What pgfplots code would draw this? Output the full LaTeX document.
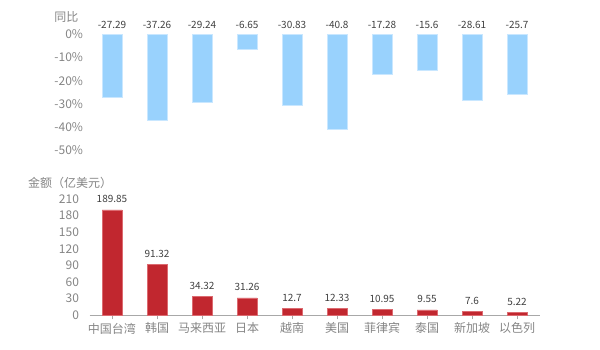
\documentclass[border=0pt]{standalone}
\usepackage{pgfplots}
\pgfplotsset{compat=1.18}
\usepackage{pgfplotstable}
\usepackage{fontspec}
\setmainfont{Noto Sans CJK SC}
\definecolor{barblue}{HTML}{99D2FD}
\definecolor{barblueedge}{HTML}{C9E7FF}
\definecolor{barred}{HTML}{C1272F}
\definecolor{barrededge}{HTML}{DC6A70}
\definecolor{ticktxt}{HTML}{858585}
\definecolor{valtxt}{HTML}{404040}
\definecolor{axisgray}{HTML}{A8A8A8}

\pgfplotstableread{
x yoy lab
0 -27.29 -27.29
1 -37.26 -37.26
2 -29.24 -29.24
3 -6.65 -6.65
4 -30.83 -30.83
5 -40.8 -40.8
6 -17.28 -17.28
7 -15.6 -15.6
8 -28.61 -28.61
9 -25.7 -25.7
}\yoytable

\pgfplotstableread{
x amt lab
0 189.85 189.85
1 91.32 91.32
2 34.32 34.32
3 31.26 31.26
4 12.7 12.7
5 12.33 12.33
6 10.95 10.95
7 9.55 9.55
8 7.6 7.6
9 5.22 5.22
}\amttable

\begin{document}
\begin{tikzpicture}[x=1pt,y=1pt]
\path[use as bounding box] (0,0) rectangle (600,350);
% top axis: year-on-year
\begin{axis}[
  at={(89.5pt,199.7pt)}, anchor=south west,
  scale only axis, width=450pt, height=116pt,
  xmin=-0.5, xmax=9.5, ymin=-50, ymax=0,
  axis line style={draw=none},
  xtick=\empty,
  ytick={-50,-40,-30,-20,-10,0},
  yticklabels={-50\%,-40\%,-30\%,-20\%,-10\%,0\%},
  ytick style={draw=none},
  yticklabel style={font=\fontsize{12}{14}\selectfont, text=ticktxt, xshift=-3pt},
  clip=false,
]
\addplot[ybar, bar width=20pt, bar shift=0pt, fill=barblue, draw=barblueedge, line width=0.8pt]
  table[x=x, y=yoy] {\yoytable};
\addplot[draw=none, mark=none, nodes near coords, point meta=explicit symbolic,
  nodes near coords style={anchor=base, yshift=6pt, font=\fontsize{10}{12}\selectfont, text=valtxt}]
  table[x=x, y expr=0, meta=lab] {\yoytable};
\end{axis}
% bottom axis: amount
\begin{axis}[
  at={(89.5pt,34.7pt)}, anchor=south west,
  scale only axis, width=450pt, height=116.5pt,
  xmin=-0.5, xmax=9.5, ymin=0, ymax=210,
  axis lines*=left,
  y axis line style={draw=none},
  x axis line style={draw=axisgray, line width=0.8pt},
  xtick={0,...,9},
  xticklabels={中国台湾,韩国,马来西亚,日本,越南,美国,菲律宾,泰国,新加坡,以色列},
  xtick style={draw=axisgray, line width=0.8pt},
  tick align=outside, major tick length=4pt,
  ytick={0,30,60,90,120,150,180,210},
  ytick style={draw=none},
  yticklabel style={font=\fontsize{12}{14}\selectfont, text=ticktxt, xshift=-3pt},
  xticklabel style={font=\fontsize{12}{14}\selectfont, text=ticktxt},
  /pgf/number format/assume math mode=true,
  clip=false,
]
\addplot[ybar, bar width=20pt, bar shift=0pt, fill=barred, draw=barrededge, line width=0.8pt,
  nodes near coords, point meta=explicit symbolic,
  nodes near coords style={anchor=base, yshift=7pt, font=\fontsize{10}{12}\selectfont, text=valtxt}]
  table[x=x, y=amt, meta=lab] {\amttable};
\end{axis}
\node[anchor=east, font=\fontsize{12}{14}\selectfont, text=ticktxt] at (82,332.7) {同比};
\node[anchor=west, inner sep=0pt, font=\fontsize{12}{14}\selectfont, text=ticktxt] at (28,166.7) {金额（亿美元）};
\end{tikzpicture}
\end{document}
